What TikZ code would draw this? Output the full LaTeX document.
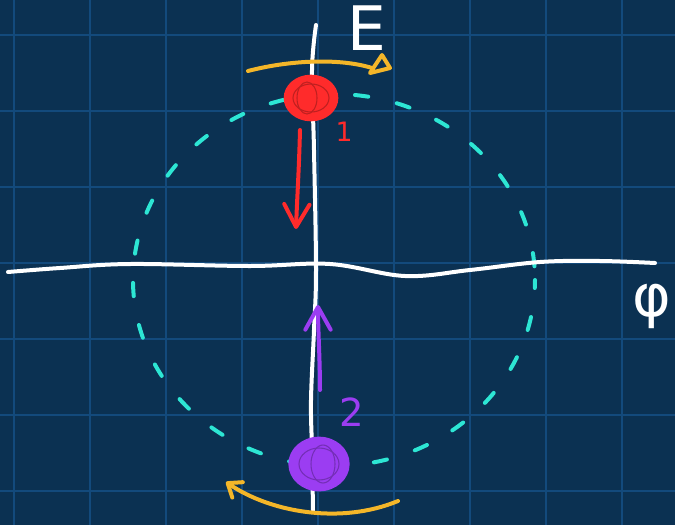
\documentclass[tikz,border=0pt]{standalone}
\usepackage{fontspec}
\setmainfont{DejaVu Sans}
\usetikzlibrary{arrows.meta,shapes.geometric}
\definecolor{bgblue}{HTML}{0B3152}
\definecolor{gridblue}{HTML}{134A7C}
\definecolor{dashcyan}{HTML}{2DE6D4}
\definecolor{penred}{HTML}{FF2B2B}
\definecolor{penpurple}{HTML}{9B3DF2}
\definecolor{penyellow}{HTML}{F4B629}
\tikzset{
  axisline/.style={draw=white,line width=3pt,line cap=round,line join=round},
  penline/.style={line width=3pt,line cap=round,line join=round},
  blob/.style={ellipse,fill=#1,draw=#1,line width=1pt,inner sep=0pt},
  lbl/.style={inner sep=0pt,text=#1},
  barb/.style={-{Straight Barb[round,length=17pt,width=19pt]}}
}
\begin{document}
\begin{tikzpicture}[x=0.75pt,y=-0.75pt]
\useasboundingbox (0,0) rectangle (675,525);
\fill[bgblue] (0,0) rectangle (675,525);
% grid
\foreach \gx in {14,90,166,242,318,394,470,546,622}
  \draw[gridblue,line width=1.5pt] (\gx,0) -- (\gx,525);
\foreach \gy in {35,111,187,263,339,415,491}
  \draw[gridblue,line width=1.5pt] (0,\gy) -- (675,\gy);
% dashed circle
\draw[dashcyan,line width=3pt,line cap=round,dash pattern=on 10pt off 22pt,dash phase=4pt]
  (334,280) ellipse [x radius=201, y radius=186];
% axes
\coordinate (hl) at (8,272);
\coordinate (hr) at (655,263);
\coordinate (vt) at (316,25);
\coordinate (vb) at (313,510);
\draw[axisline] plot[smooth,tension=0.6] coordinates
  {(hl) (60,268) (130,264) (250,266) (330,264) (405,276) (470,270) (540,262) (600,261) (hr)};
\draw[axisline] plot[smooth,tension=0.6] coordinates
  {(vt) (312,70) (314,150) (316,270) (314,330) (311,400) (312,450) (vb)};
% yellow arcs
\coordinate (ya) at (248,71);
\coordinate (yb) at (372,68);
\draw[penyellow,penline] (ya) .. controls (290,60) and (340,58) .. (yb);
\draw[penyellow,penline] (382,55) -- (370,73) -- (390,68) -- cycle;
\coordinate (yc) at (398,501);
\coordinate (yd) at (226,482);
\draw[penyellow,penline,-{Straight Barb[round,length=9pt,width=14pt]}] (yc) .. controls (340,525) and (270,512) .. (yd);
% blobs
\node[blob=penred,minimum width=40pt,minimum height=34pt] (s1) at (311,98) {};
\draw[penred!75!black,line width=0.8pt] (s1.center) ellipse [x radius=18, y radius=14];
\draw[penred!75!black,line width=0.8pt] ([xshift=-3pt]s1.center) ellipse [x radius=10, y radius=16];
\node[blob=penpurple,minimum width=45pt,minimum height=40pt] (s2) at (319,464) {};
\draw[penpurple!75!black,line width=0.8pt] (s2.center) ellipse [x radius=20, y radius=16];
\draw[penpurple!75!black,line width=0.8pt] ([xshift=3pt]s2.center) ellipse [x radius=12, y radius=19];
% motion arrows
\coordinate (r1) at (300,130);
\coordinate (r2) at (296,229);
\draw[penred,penline,barb] (r1) .. controls (299,170) and (297,200) .. (r2);
\coordinate (p1) at (320,390);
\coordinate (p2) at (318,305);
\draw[penpurple,penline,barb] (p1) .. controls (320,360) and (318,330) .. (p2);
% labels
\node[lbl=white,font=\fontsize{46}{46}\selectfont] (E) at (367,28) {E};
\node[lbl=white,font=\fontsize{44}{44}\selectfont] (phi) at (652,306) {φ};
\node[lbl=penred,font=\fontsize{20}{20}\selectfont] (n1) at (344,132) {1};
\node[lbl=penpurple,font=\fontsize{29}{29}\selectfont] (n2) at (352,412) {2};
\end{tikzpicture}
\end{document}
